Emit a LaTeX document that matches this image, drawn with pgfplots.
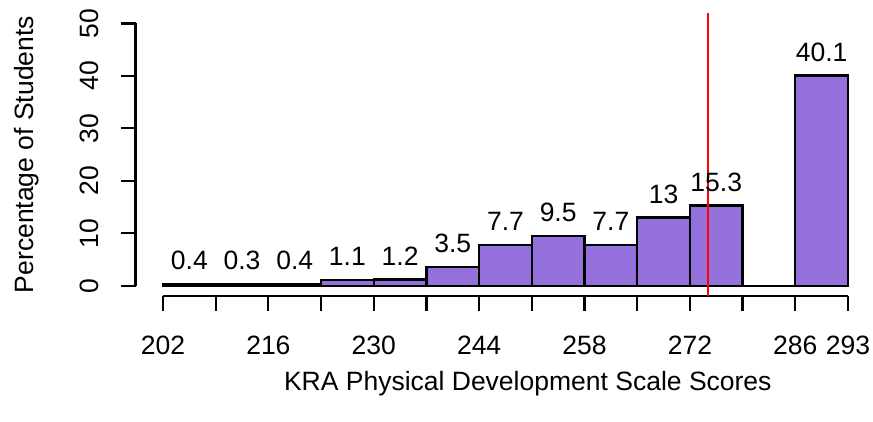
\documentclass[border=0pt]{standalone}
\usepackage{pgfplots}
\pgfplotsset{compat=1.18}
\usepackage{fontspec}
\setmainfont{Liberation Sans}
\definecolor{mediumpurple}{HTML}{9370DB}
\begin{document}
\begin{tikzpicture}
\fontsize{26.6}{32}\selectfont
% picture frame 873 x 422 (axis box: left 135.6, bottom 296.2 in image px)
\path[use as bounding box] (-135.6bp,-125.8bp) rectangle ++(873bp,422bp);
\begin{axis}[
  scale only axis,
  width=737.2bp, height=283.2bp,
  xmin=198.36, xmax=296.3,
  ymin=-2, ymax=52,
  axis x line*=bottom, axis y line*=left,
  x axis line style={line width=2.2bp, shorten <=27.4bp, shorten >=24.8bp},
  y axis line style={line width=2.2bp, shorten <=10.49bp, shorten >=10.49bp},
  tick align=outside,
  major tick length=15bp,
  every tick/.style={black, line width=2.2bp},
  xtick={202,209,...,293},
  xticklabels={202,,216,,230,,244,,258,,272,,286,293},
  ytick={0,10,...,50},
  /pgf/number format/assume math mode=true,
  font=\fontsize{26.6}{32}\selectfont,
  xticklabel style={anchor=base, yshift=-43bp},
  yticklabel style={rotate=90, anchor=base, yshift=22bp},
  xlabel={KRA Physical Development Scale Scores},
  ylabel={Percentage of Students},
  xlabel style={at={(axis description cs:0.532,-0.308)}, anchor=center},
  ylabel style={at={(axis description cs:-0.139,0.5)}, anchor=base},
  clip=false,
]
\addplot[ybar interval, fill=mediumpurple, draw=black, line width=2.2bp] coordinates {
  (202,0.4) (209,0.3) (216,0.4) (223,1.1) (230,1.2) (237,3.5) (244,7.7)
  (251,9.5) (258,7.7) (265,13) (272,15.3) (279,0) (286,40.1) (293,40.1)
};
\addplot[draw=none, mark=none, nodes near coords, point meta=explicit symbolic,
  nodes near coords style={anchor=center, yshift=23.5bp, font=\fontsize{26.6}{32}\selectfont}] coordinates {
  (205.5,0.4)[0.4] (212.5,0.3)[0.3] (219.5,0.4)[0.4] (226.5,1.1)[1.1]
  (233.5,1.2)[1.2] (240.5,3.5)[3.5] (247.5,7.7)[7.7] (254.5,9.5)[9.5]
  (261.5,7.7)[7.7] (268.5,13)[13] (275.5,15.3)[15.3] (289.5,40.1)[40.1]
};
\draw[line width=2.2bp] (axis cs:198.36,0) -- (axis cs:198.36,50);
\draw[red, line width=2.2bp] (axis cs:274.45,-2) -- (axis cs:274.45,52);
\end{axis}
\end{tikzpicture}
\end{document}
